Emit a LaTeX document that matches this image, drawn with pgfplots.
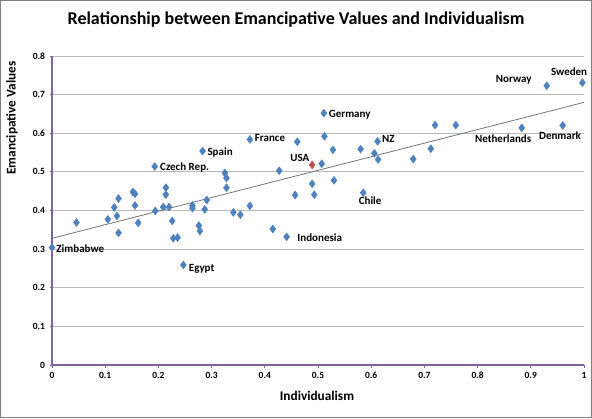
\documentclass[border=0pt]{standalone}
\usepackage{pgfplots}
\pgfplotsset{compat=1.18}
\usepackage{fontspec}
\setmainfont{Carlito}
\definecolor{ptblue}{HTML}{4F81BD}
\definecolor{ptred}{HTML}{C0504D}
\definecolor{axpurple}{HTML}{8064A2}
\pgfplotstableread{
x y
0.000 0.304
0.046 0.369
0.105 0.377
0.117 0.408
0.122 0.386
0.125 0.431
0.125 0.342
0.152 0.448
0.156 0.443
0.156 0.413
0.162 0.368
0.193 0.514
0.194 0.399
0.209 0.409
0.214 0.459
0.214 0.441
0.220 0.409
0.226 0.373
0.228 0.328
0.236 0.330
0.247 0.259
0.264 0.413
0.264 0.406
0.276 0.361
0.278 0.347
0.283 0.554
0.287 0.403
0.291 0.427
0.325 0.497
0.328 0.484
0.328 0.459
0.341 0.395
0.354 0.389
0.372 0.584
0.372 0.412
0.415 0.352
0.427 0.503
0.441 0.332
0.457 0.440
0.461 0.578
0.489 0.469
0.493 0.441
0.507 0.521
0.511 0.652
0.512 0.592
0.528 0.557
0.530 0.478
0.580 0.559
0.585 0.446
0.606 0.548
0.612 0.579
0.613 0.532
0.679 0.533
0.712 0.560
0.720 0.621
0.759 0.621
0.883 0.614
0.930 0.723
0.960 0.620
0.997 0.731
}\datatable
\tikzset{lbl/.style={font=\fontsize{11}{12}\selectfont\bfseries, inner sep=0pt}}
\begin{document}
\begin{tikzpicture}[x=1pt,y=1pt]
\path[use as bounding box] (0,0) rectangle (592,418);
\draw[black!50, line width=1pt] (0.5,0.5) rectangle (591.5,417.5);
\begin{axis}[
  at={(52pt,53pt)}, anchor=south west, scale only axis,
  width=532pt, height=309pt,
  xmin=0, xmax=1, ymin=0, ymax=0.8,
  axis x line*=bottom, axis y line*=left,
  axis line style={axpurple, line width=1.6pt},
  xtick={0,0.1,0.2,0.3,0.4,0.5,0.6,0.7,0.8,0.9,1},
  ytick={0,0.1,0.2,0.3,0.4,0.5,0.6,0.7,0.8},
  tick align=outside, major tick length=2.5pt,
  tick style={axpurple, line width=1pt},
  ymajorgrids, grid style={black!28, line width=0.8pt},
  /pgf/number format/assume math mode=true,
  tick label style={font=\fontsize{9.5}{10}\selectfont\bfseries},
  xticklabel style={yshift=-1pt},
  yticklabel style={xshift=-1pt},
  clip=false,
]
\addplot[black!55, line width=0.8pt] coordinates {(0,0.328) (1,0.680)};
\addplot[only marks, mark=diamond*, mark size=4pt, mark options={fill=ptblue, draw=ptblue}] table {\datatable};
\addplot[only marks, mark=diamond*, mark size=4pt, mark options={fill=ptred, draw=ptred}] coordinates {(0.489,0.518)};
\node[lbl, anchor=west] at (axis cs:0.008,0.301) {Zimbabwe};
\node[lbl, anchor=west] at (axis cs:0.257,0.250) {Egypt};
\node[lbl, anchor=west] at (axis cs:0.203,0.511) {Czech Rep.};
\node[lbl, anchor=west] at (axis cs:0.292,0.551) {Spain};
\node[lbl, anchor=west] at (axis cs:0.381,0.588) {France};
\node[lbl] at (axis cs:0.466,0.537) {USA};
\node[lbl, anchor=west] at (axis cs:0.520,0.649) {Germany};
\node[lbl, anchor=west] at (axis cs:0.620,0.584) {NZ};
\node[lbl] at (axis cs:0.598,0.425) {Chile};
\node[lbl, anchor=west] at (axis cs:0.461,0.330) {Indonesia};
\node[lbl] at (axis cs:0.848,0.586) {Netherlands};
\node[lbl] at (axis cs:0.955,0.594) {Denmark};
\node[lbl] at (axis cs:0.868,0.739) {Norway};
\node[lbl] at (axis cs:0.972,0.759) {Sweden};
\end{axis}
\node[font=\fontsize{18}{20}\selectfont\bfseries] at (296,398) {Relationship between Emancipative Values and Individualism};
\node[font=\fontsize{13.3}{14}\selectfont\bfseries] at (317,22) {Individualism};
\node[font=\fontsize{13.3}{14}\selectfont\bfseries, rotate=90] at (12,300) {Emancipative Values};
\end{tikzpicture}
\end{document}
